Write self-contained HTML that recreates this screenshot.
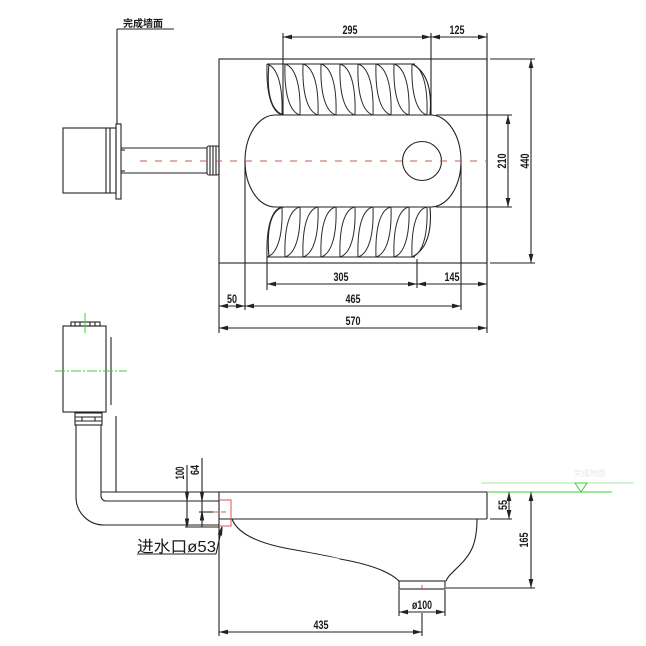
<!DOCTYPE html>
<html><head><meta charset="utf-8"><style>
html,body{margin:0;padding:0;background:#fff;}
svg{display:block;}
text{font-family:"Liberation Sans Narrow","Liberation Sans","Noto Sans CJK SC",sans-serif;fill:#1a1a1a;}
</style></head><body>
<svg width="646" height="646" viewBox="0 0 646 646" xmlns="http://www.w3.org/2000/svg">
<defs>
<marker id="a" viewBox="0 0 9 6" refX="9" refY="3" markerWidth="9" markerHeight="6" markerUnits="userSpaceOnUse" orient="auto-start-reverse"><path d="M0,0.6 L9,3 L0,5.4 z" fill="#222"/></marker>
<path id="L" d="M0,64 C-1,95 5,112 15,115 M0,64 C10,67 16,84 15,115" fill="none" stroke="#2a2a2a" stroke-width="1"/>
<path id="B" d="M0,257 C-1,226 5,209 15,207 M0,257 C10,254 16,237 15,207" fill="none" stroke="#2a2a2a" stroke-width="1"/>
</defs>
<rect width="646" height="646" fill="#fff"/>
<g stroke="#222" stroke-width="1.1" fill="none">
<!-- wall label leader -->
<line x1="117" y1="29" x2="174" y2="29"/>
<line x1="117" y1="29" x2="117" y2="124"/>
<!-- top view tank -->
<rect x="63" y="128" width="53" height="65"/>
<line x1="106" y1="128" x2="106" y2="193"/>
<line x1="110" y1="128" x2="110" y2="193"/>
<rect x="116" y="124" width="5" height="75"/>
<line x1="121" y1="148" x2="207" y2="148"/>
<line x1="121" y1="173" x2="207" y2="173"/>
<line x1="121" y1="150" x2="125" y2="150"/>
<line x1="121" y1="171" x2="125" y2="171"/>
<!-- coupling -->
<rect x="207" y="146" width="12" height="29" rx="2"/>
<line x1="210" y1="146" x2="210" y2="175"/>
<line x1="213" y1="146" x2="213" y2="175"/>
<line x1="216" y1="146" x2="216" y2="175"/>
<!-- main rect -->
<rect x="219" y="59" width="268" height="204"/>
<!-- bowl -->
<path d="M275,115 L431,115 A30,46 0 0 1 431,207 L275,207 A30,46 0 0 1 275,115 Z"/>
<circle cx="422" cy="161" r="19.5"/>
<!-- groove rows outline -->
<line x1="267" y1="64" x2="415" y2="64"/>
<line x1="267" y1="257" x2="415" y2="257"/>
<path d="M269,64 C266,95 272,112 284,115"/>
<path d="M269,257 C266,226 272,209 284,207"/>
<path d="M412,64 C428,72 432,92 430,115"/>
<path d="M412,257 C428,249 432,229 430,207"/>
<!-- top dims -->
<line x1="283" y1="33" x2="283" y2="115"/>
<line x1="431" y1="33" x2="431" y2="115"/>
<line x1="487" y1="33" x2="487" y2="333"/>
<line x1="283" y1="37" x2="431" y2="37" marker-start="url(#a)" marker-end="url(#a)"/>
<line x1="431" y1="37" x2="487" y2="37" marker-start="url(#a)" marker-end="url(#a)"/>
<!-- right dims -->
<line x1="436" y1="115" x2="512" y2="115"/>
<line x1="436" y1="207" x2="512" y2="207"/>
<line x1="508" y1="115" x2="508" y2="207" marker-start="url(#a)" marker-end="url(#a)"/>
<line x1="490" y1="59" x2="535" y2="59"/>
<line x1="490" y1="263" x2="535" y2="263"/>
<line x1="531" y1="59" x2="531" y2="263" marker-start="url(#a)" marker-end="url(#a)"/>
<!-- bottom dims top view -->
<line x1="267" y1="257" x2="267" y2="290"/>
<line x1="417" y1="259" x2="417" y2="288"/>
<line x1="267" y1="284" x2="417" y2="284" marker-start="url(#a)" marker-end="url(#a)"/>
<line x1="417" y1="284" x2="487" y2="284" marker-start="url(#a)" marker-end="url(#a)"/>
<line x1="245" y1="161" x2="245" y2="310"/>
<line x1="461" y1="165" x2="461" y2="310"/>
<line x1="245" y1="306" x2="461" y2="306" marker-start="url(#a)" marker-end="url(#a)"/>
<line x1="219" y1="306" x2="245" y2="306" marker-start="url(#a)" marker-end="url(#a)"/>
<line x1="219" y1="263" x2="219" y2="333"/>
<line x1="219" y1="328" x2="487" y2="328" marker-start="url(#a)" marker-end="url(#a)"/>
<!-- side view tank -->
<rect x="63" y="326" width="43" height="86"/>
<rect x="71" y="322" width="29" height="4"/>
<line x1="75" y1="322" x2="75" y2="326"/><line x1="80" y1="322" x2="80" y2="326"/><line x1="90" y1="322" x2="90" y2="326"/><line x1="95" y1="322" x2="95" y2="326"/>
<line x1="111" y1="337" x2="111" y2="405"/>
<rect x="75" y="413" width="27" height="12"/>
<line x1="75" y1="417" x2="102" y2="417"/>
<line x1="75" y1="421" x2="102" y2="421"/>
<line x1="82" y1="417" x2="82" y2="421"/><line x1="95" y1="417" x2="95" y2="421"/>
<!-- pipe -->
<path d="M76,425 L76,497 A28,28 0 0 0 104,525 L219,525"/>
<path d="M101,425 L101,496 A5,5 0 0 0 106,501 L219,501"/>
<line x1="116" y1="416" x2="116" y2="492"/>
<!-- slab -->
<line x1="101" y1="492" x2="487" y2="492"/>
<line x1="487" y1="492" x2="487" y2="519"/>
<line x1="219" y1="519" x2="487" y2="519"/>
<line x1="219" y1="492" x2="219" y2="636"/>
<!-- bowl curves -->
<path d="M232,519 Q240,540 290,549 T340,559 Q385,567 399,581"/>
<path d="M477,519 C477,545 470,555 460,565 C452,573 448,576 446,581"/>
<rect x="399" y="581" width="46" height="8"/>
<!-- inlet dims -->
<line x1="199" y1="512" x2="213" y2="512"/>
<line x1="185" y1="527" x2="219" y2="527"/>
<line x1="187" y1="465" x2="187" y2="527"/>
<path d="M187,500 l-1.5,-8 h3 z M187,527 l-1.5,-8 h3 z" fill="#222"/>
<line x1="202" y1="458" x2="202" y2="527"/>
<path d="M202,500 l-1.5,-8 h3 z M202,512 l-1.5,8 h3 z" fill="#222"/>
<line x1="137" y1="554" x2="216" y2="554"/>
<line x1="216" y1="554" x2="222" y2="527"/>
<path d="M222,527 l-3.5,7 l3,1 z" fill="#222"/>
<!-- bottom dims side -->
<line x1="399" y1="590" x2="399" y2="616"/>
<line x1="445" y1="590" x2="445" y2="616"/>
<line x1="399" y1="612" x2="445" y2="612" marker-start="url(#a)" marker-end="url(#a)"/>
<line x1="422" y1="613" x2="422" y2="636"/>
<line x1="219" y1="632" x2="422" y2="632" marker-start="url(#a)" marker-end="url(#a)"/>
<line x1="490" y1="519" x2="512" y2="519"/>
<line x1="509" y1="492" x2="509" y2="519" marker-start="url(#a)" marker-end="url(#a)"/>
<line x1="446" y1="588" x2="535" y2="588"/>
<line x1="531" y1="492" x2="531" y2="588" marker-start="url(#a)" marker-end="url(#a)"/>
</g>
<!-- lenses -->
<use href="#L" x="267"/><use href="#L" x="285"/><use href="#L" x="303"/><use href="#L" x="321"/><use href="#L" x="340"/><use href="#L" x="358"/><use href="#L" x="376"/><use href="#L" x="394"/><use href="#L" x="412"/>
<use href="#B" x="267"/><use href="#B" x="285"/><use href="#B" x="303"/><use href="#B" x="321"/><use href="#B" x="340"/><use href="#B" x="358"/><use href="#B" x="376"/><use href="#B" x="394"/><use href="#B" x="412"/>
<!-- red -->
<line x1="140" y1="161" x2="487" y2="161" stroke="#c0604f" stroke-width="1" stroke-dasharray="7,8"/>
<g stroke="#d9534f" stroke-width="1" fill="none">
<path d="M220,500 H231 V526 H220"/>
<line x1="213" y1="512" x2="229" y2="512" stroke-dasharray="5,3"/>
<line x1="422" y1="585" x2="422" y2="590"/>
</g>
<!-- green -->
<g stroke="#3ecf3e" stroke-width="1" fill="none">
<line x1="85" y1="313" x2="85" y2="333"/>
<line x1="55" y1="371" x2="127" y2="371" stroke-dasharray="10,2,2,2"/>
<line x1="487" y1="492" x2="612" y2="492"/>
<line x1="481" y1="483" x2="634" y2="483" stroke="#a8e6a8"/>
<path d="M575,483 L587,483 L581,492 Z"/>
</g>
<text x="590" y="476" font-size="8" text-anchor="middle" style="fill:#e2ebe2">完成地面</text>
<!-- texts -->
<text x="123" y="27" font-size="10" font-weight="bold" textLength="40" lengthAdjust="spacingAndGlyphs" style="font-family:'Liberation Sans','Noto Sans CJK SC',sans-serif">完成墙面</text>
<g font-size="12" font-weight="bold" text-anchor="middle">
<text x="350" y="34" textLength="15" lengthAdjust="spacingAndGlyphs">295</text>
<text x="457" y="34" textLength="15" lengthAdjust="spacingAndGlyphs">125</text>
<text x="341" y="281" textLength="15" lengthAdjust="spacingAndGlyphs">305</text>
<text x="452" y="281" textLength="15" lengthAdjust="spacingAndGlyphs">145</text>
<text x="353" y="303" textLength="15" lengthAdjust="spacingAndGlyphs">465</text>
<text x="232" y="303" textLength="10" lengthAdjust="spacingAndGlyphs">50</text>
<text x="353" y="325" textLength="15" lengthAdjust="spacingAndGlyphs">570</text>
<text x="422" y="609" textLength="20" lengthAdjust="spacingAndGlyphs">ø100</text>
<text x="321" y="629" textLength="15" lengthAdjust="spacingAndGlyphs">435</text>
<text transform="translate(506,161) rotate(-90)" textLength="15" lengthAdjust="spacingAndGlyphs">210</text>
<text transform="translate(529,161) rotate(-90)" textLength="15" lengthAdjust="spacingAndGlyphs">440</text>
<text transform="translate(507,505) rotate(-90)" textLength="10" lengthAdjust="spacingAndGlyphs">55</text>
<text transform="translate(528,540) rotate(-90)" textLength="15" lengthAdjust="spacingAndGlyphs">165</text>
<text transform="translate(184,473) rotate(-90)" textLength="13" lengthAdjust="spacingAndGlyphs">100</text>
<text transform="translate(199,470) rotate(-90)" textLength="10" lengthAdjust="spacingAndGlyphs">64</text>
</g>
<text x="137" y="552" font-size="16" textLength="79" lengthAdjust="spacingAndGlyphs" style="font-family:'Liberation Sans','Noto Sans CJK SC',sans-serif">进水口ø53</text>
</svg>
</body></html>
